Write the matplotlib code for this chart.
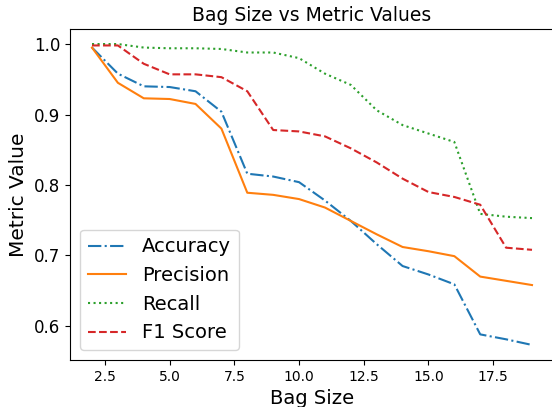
import numpy as np
import matplotlib
matplotlib.use("Agg")
import matplotlib.pyplot as plt

# Данные
bag_sizes = np.arange(2, 20)
accuracy = [0.995, 0.958, 0.940, 0.939, 0.933, 0.904, 0.816, 0.812, 0.804,
            0.778, 0.749, 0.716, 0.685, 0.673, 0.659, 0.588, 0.581, 0.573]
precision = [0.995, 0.945, 0.923, 0.922, 0.915, 0.880, 0.789, 0.786, 0.780,
             0.768, 0.749, 0.730, 0.712, 0.706, 0.699, 0.670, 0.664, 0.658]
recall = [1.000, 1.000, 0.995, 0.994, 0.994, 0.993, 0.988, 0.988, 0.980,
          0.958, 0.942, 0.906, 0.885, 0.873, 0.861, 0.759, 0.755, 0.753]
f1_score = [0.998, 0.998, 0.972, 0.957, 0.957, 0.953, 0.933, 0.878, 0.876,
            0.869, 0.852, 0.832, 0.809, 0.790, 0.783, 0.772, 0.711, 0.708]

fig = plt.figure(figsize=(5.52, 4.07), dpi=100)
ax = fig.add_axes([70 / 552, 47 / 407, 484 / 552, 331 / 407])

ax.plot(bag_sizes, accuracy, '-.', label='Accuracy')
ax.plot(bag_sizes, precision, '-', label='Precision')
ax.plot(bag_sizes, recall, ':', label='Recall')
ax.plot(bag_sizes, f1_score, '--', label='F1 Score')

ax.set_title('Bag Size vs Metric Values', fontsize=13.5)
ax.set_xlabel('Bag Size', fontsize=14)
ax.set_ylabel('Metric Value', fontsize=14.5)
ax.tick_params(axis='x', labelsize=10)
ax.tick_params(axis='y', labelsize=12)
ax.legend(fontsize=14, loc='lower left')

fig.savefig('out.png', dpi=100)
